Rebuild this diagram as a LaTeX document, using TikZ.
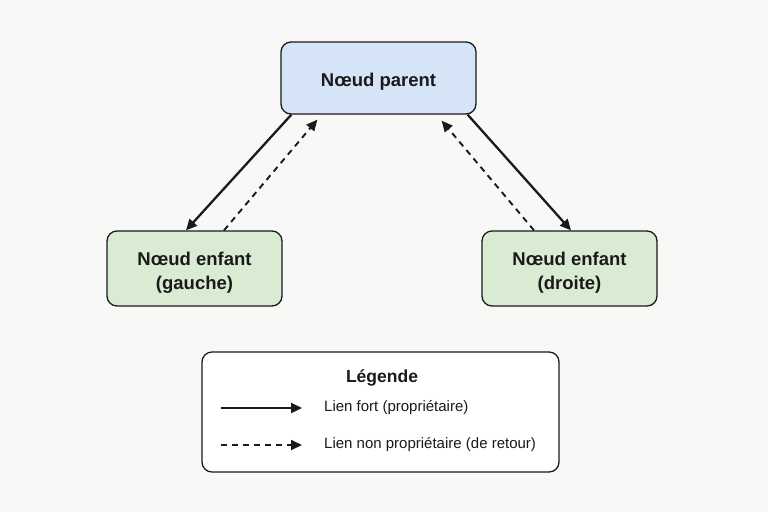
\documentclass[tikz,border=0pt]{standalone}
\usepackage{fontspec}
\setmainfont{Liberation Sans}
\usetikzlibrary{arrows.meta,positioning,calc}
\definecolor{bgc}{HTML}{F8F8F7}
\definecolor{bluefill}{HTML}{D6E4F7}
\definecolor{greenfill}{HTML}{DAEBD4}
\definecolor{ink}{HTML}{1A1A1A}
\newcommand{\lowered}[2]{\raisebox{-#1}[\height][\depth]{#2}}
\newcommand{\twolines}[2]{\begin{tabular}{@{}c@{}}#1\\[0pt]#2\end{tabular}}
\tikzset{
  box/.style={draw=ink, line width=1.3pt, rounded corners=10pt, align=center, inner sep=0pt, text=ink},
  parentbox/.style={box, fill=bluefill, minimum width=195pt, minimum height=72pt, font=\fontsize{18.5}{24}\selectfont\bfseries},
  childbox/.style={box, fill=greenfill, minimum width=175pt, minimum height=75pt, font=\fontsize{18.5}{24}\selectfont\bfseries},
  legendbox/.style={draw=ink, line width=1.3pt, rounded corners=10pt, fill=white, minimum width=357pt, minimum height=120pt},
  strong/.style={draw=ink, line width=2.3pt, -{Triangle[length=11pt,width=10pt]}},
  weak/.style={draw=ink, line width=1.9pt, dash pattern=on 6pt off 5pt, -{Triangle[length=11pt,width=10pt]}},
  legtext/.style={anchor=west, font=\fontsize{15}{18}\selectfont, text=ink, inner sep=0pt},
}
\begin{document}
\begin{tikzpicture}[x=1pt,y=-1pt]
\fill[bgc] (0,0) rectangle (768,512);
\useasboundingbox (0,0) rectangle (768,512);
\node[parentbox] (p) at (378.5,78) {\lowered{3.5pt}{Nœud parent}};
\node[childbox] (l) at (194.5,268.5) {\lowered{4.5pt}{\twolines{Nœud enfant}{(gauche)}}};
\node[childbox] (r) at (569.5,268.5) {\lowered{4.5pt}{\twolines{Nœud enfant}{(droite)}}};
\draw[strong] ([xshift=11pt]p.south west) -- ([xshift=-8.5pt]l.north);
\draw[weak] ([xshift=29.5pt]l.north) -- ([xshift=37pt,yshift=-5pt]p.south west);
\draw[strong] ([xshift=-9pt]p.south east) -- ([xshift=1.5pt]r.north);
\draw[weak] ([xshift=-35.5pt]r.north) -- ([xshift=-35pt,yshift=-6pt]p.south east);
\node[legendbox] (leg) at (380.5,412) {};
\node[font=\fontsize{17.5}{20}\selectfont\bfseries, text=ink] (legt) at (382,378) {Légende};
\coordinate (s1) at (221,408);
\coordinate (e1) at (302,408);
\coordinate (s2) at (221,445);
\coordinate (e2) at (302,445);
\draw[strong] (s1) -- (e1);
\draw[weak, dash pattern=on 6pt off 5pt] (s2) -- (e2);
\node[legtext] (t1) at (324,408) {Lien fort (propriétaire)};
\node[legtext] (t2) at (324,445) {Lien non propriétaire (de retour)};
\end{tikzpicture}
\end{document}
